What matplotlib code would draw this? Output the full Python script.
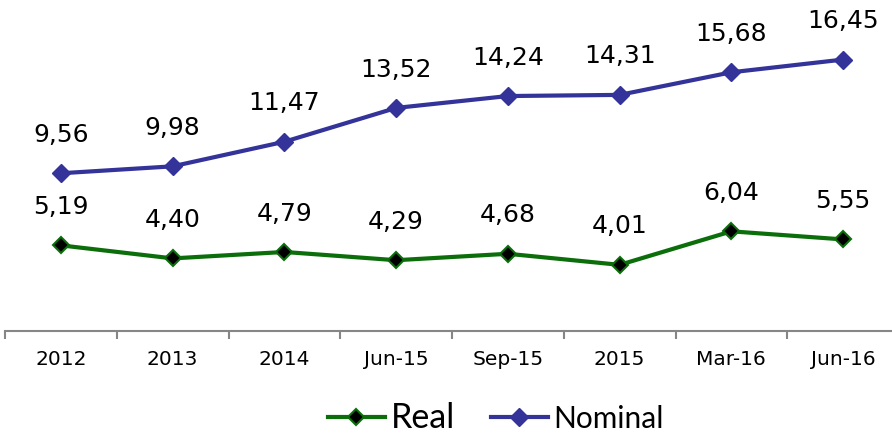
import matplotlib.pyplot as plt
from matplotlib.lines import Line2D
import numpy as np

# data
categories = ['2012', '2013', '2014', 'Jun-15', 'Sep-15', '2015', 'Mar-16', 'Jun-16']
real = [5.19, 4.40, 4.79, 4.29, 4.68, 4.01, 6.04, 5.55]
nominal = [9.56, 9.98, 11.47, 13.52, 14.24, 14.31, 15.68, 16.45]

green = '#0b6e0b'
blue = '#333399'

fig = plt.figure(figsize=(8.92, 4.36), dpi=100)
ax = fig.add_axes([5 / 892, 105 / 436, 894 / 892, 330 / 436])

x = np.arange(len(categories))
ax.plot(x, real, color=green, lw=3, marker='D', ms=8.5,
        markerfacecolor='black', markeredgecolor=green, markeredgewidth=1.5, clip_on=False)
ax.plot(x, nominal, color=blue, lw=3, marker='D', ms=9,
        markerfacecolor=blue, markeredgecolor=blue, clip_on=False)

# value labels above the markers
for xi, v in zip(x, real):
    ax.annotate(f'{v:.2f}'.replace('.', ','), (xi, v), xytext=(0, 19), textcoords='offset points',
                ha='center', va='bottom', fontsize=18, color='black')
for xi, v in zip(x, nominal):
    ax.annotate(f'{v:.2f}'.replace('.', ','), (xi, v), xytext=(0, 19), textcoords='offset points',
                ha='center', va='bottom', fontsize=18, color='black')

ax.set_xlim(-0.5, 7.5)
ax.set_ylim(0, 20)
ax.set_yticks([])
for s in ['top', 'right', 'left']:
    ax.spines[s].set_visible(False)
ax.spines['bottom'].set_color('#868686')
ax.spines['bottom'].set_linewidth(1.5)

ax.set_xticks(x)
ax.set_xticklabels(categories, fontsize=14.5)
ax.tick_params(axis='x', which='major', length=0, pad=14)
ax.set_xticks(np.arange(-0.5, 8, 1), minor=True)
ax.tick_params(axis='x', which='minor', length=6, width=1.5, color='#868686', direction='out')

handles = [Line2D([], [], color=green, lw=3, marker='D', ms=8.5, markerfacecolor='black',
                  markeredgecolor=green, markeredgewidth=1.5),
           Line2D([], [], color=blue, lw=3, marker='D', ms=9, markerfacecolor=blue,
                  markeredgecolor=blue)]
leg = fig.legend(handles, ['Real', 'Nominal'], loc='center', bbox_to_anchor=(0.556, 0.042),
                 ncol=2, frameon=False, handlelength=1.9, handletextpad=0.2,
                 columnspacing=1.2, prop={'family': 'Lato', 'size': 21.5})
leg.get_texts()[0].set_fontsize(24.5)

fig.savefig('out.png', dpi=100)
